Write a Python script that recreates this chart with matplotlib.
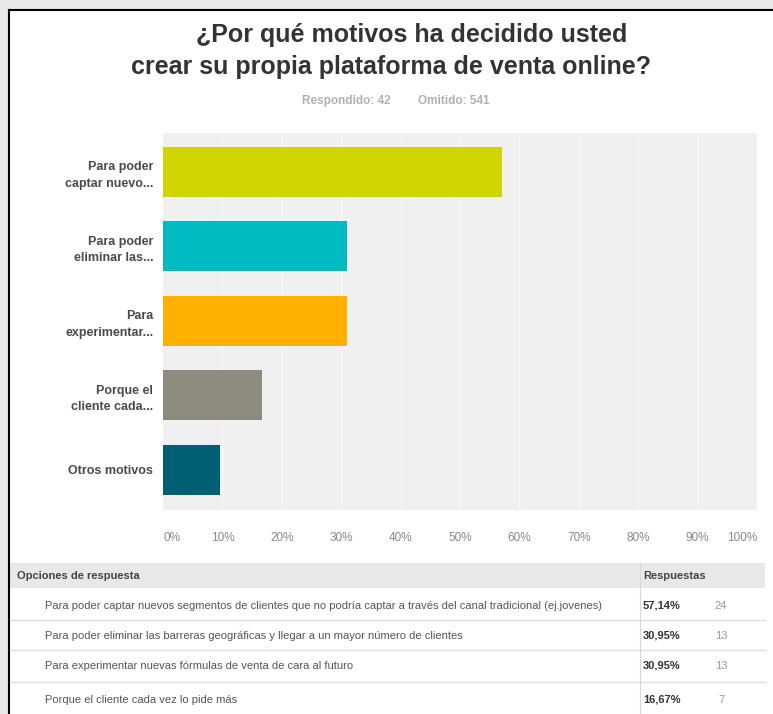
import matplotlib.pyplot as plt
from matplotlib.patches import Rectangle
from matplotlib.lines import Line2D

# data
labels = ["Para poder\ncaptar nuevo...", "Para poder\neliminar las...", "Para\nexperimentar...",
          "Porque el\ncliente cada...", "Otros motivos"]
percents = [57.14, 30.95, 30.95, 16.67, 9.52]
colors = ["#d0d400", "#00bcc0", "#ffb000", "#8c8c7e", "#005f73"]
ticks = [0, 10, 20, 30, 40, 50, 60, 70, 80, 90, 100]

table_options = ["Para poder captar nuevos segmentos de clientes que no podría captar a través del canal tradicional (ej.jovenes)",
                 "Para poder eliminar las barreras geográficas y llegar a un mayor número de clientes",
                 "Para experimentar nuevas fórmulas de venta de cara al futuro",
                 "Porque el cliente cada vez lo pide más"]
table_pct = ["57,14%", "30,95%", "30,95%", "16,67%"]
table_count = ["24", "13", "13", "7"]

W, H = 773, 714
fig = plt.figure(figsize=(W / 100, H / 100), dpi=100, facecolor="#e9e9e9")
plt.rcParams['font.family'] = ['Liberation Sans', 'DejaVu Sans']

def fx(x):
    return x / W

def fy(y):
    return 1 - y / H

# white page with black frame on top / left
fig.patches.append(Rectangle((fx(9), 0), 1 - fx(9), fy(10), transform=fig.transFigure,
                             facecolor="white", edgecolor="none", zorder=-5))
fig.lines.append(Line2D([fx(9), fx(9)], [0, fy(10)], transform=fig.transFigure, color="black", lw=1.5))
fig.lines.append(Line2D([fx(9), 1], [fy(10), fy(10)], transform=fig.transFigure, color="black", lw=1.5))

# title
fig.text(fx(412), fy(35), "¿Por qué motivos ha decidido usted", ha="center", va="center",
         fontsize=18, fontweight="bold", color="#333333")
fig.text(fx(391), fy(67), "crear su propia plataforma de venta online?", ha="center", va="center",
         fontsize=18, fontweight="bold", color="#333333")
fig.text(fx(346), fy(101), "Respondido: 42", ha="center", va="center",
         fontsize=8.5, fontweight="bold", color="#b0b0b0")
fig.text(fx(454), fy(101), "Omitido: 541", ha="center", va="center",
         fontsize=8.5, fontweight="bold", color="#b0b0b0")

# bar chart
ax = fig.add_axes([fx(163), fy(510), fx(757) - fx(163), fy(133) - fy(510)])
ax.set_facecolor("#f0f0f0")
y = list(range(len(labels)))
ax.barh(y, percents, height=0.67, color=colors, zorder=3)
ax.set_xlim(0, 100)
ax.set_ylim(4.54, -0.52)
for t in ticks[1:-1]:
    ax.axvline(t, color="#f8f8f8", lw=1, zorder=1)
for s in ax.spines.values():
    s.set_visible(False)
ax.set_yticks(y)
ax.set_yticklabels(labels, fontsize=9, fontweight="bold", color="#4a4a4a", linespacing=1.5)
ax.tick_params(axis="y", length=0, pad=7)
ax.set_xticks(ticks)
ax.set_xticklabels([f"{t}%" for t in ticks], fontsize=8.5, color="#888888")
ax.tick_params(axis="x", length=0, pad=16)
xl = ax.get_xticklabels()
xl[0].set_ha("left")
xl[-1].set_ha("right")

# table of responses
fig.patches.append(Rectangle((fx(10), fy(588)), fx(765) - fx(10), fy(563) - fy(588),
                             transform=fig.transFigure, facecolor="#e8e8e8", edgecolor="none"))
fig.lines.append(Line2D([fx(640), fx(640)], [0, fy(563)], transform=fig.transFigure, color="#d8d8d8", lw=0.8))
fig.text(fx(17), fy(576), "Opciones de respuesta", ha="left", va="center", fontsize=8,
         fontweight="bold", color="#444444")
fig.text(fx(643), fy(576), "Respuestas", ha="left", va="center", fontsize=8,
         fontweight="bold", color="#444444")
row_y = [606, 636, 666, 700]
for i, (opt, p, c) in enumerate(zip(table_options, table_pct, table_count)):
    yy = row_y[i]
    fig.text(fx(45), fy(yy), opt, ha="left", va="center", fontsize=8, color="#555555")
    fig.text(fx(643), fy(yy), p, ha="left", va="center", fontsize=8, fontweight="bold", color="#333333")
    fig.text(fx(721), fy(yy), c, ha="center", va="center", fontsize=8, color="#999999")
    if i < len(row_y) - 1:
        ly = (row_y[i] + row_y[i + 1]) / 2 - 1
        fig.lines.append(Line2D([fx(10), fx(765)], [fy(ly), fy(ly)], transform=fig.transFigure,
                                color="#dddddd", lw=1))

fig.savefig("out.png", dpi=100, facecolor=fig.get_facecolor())
